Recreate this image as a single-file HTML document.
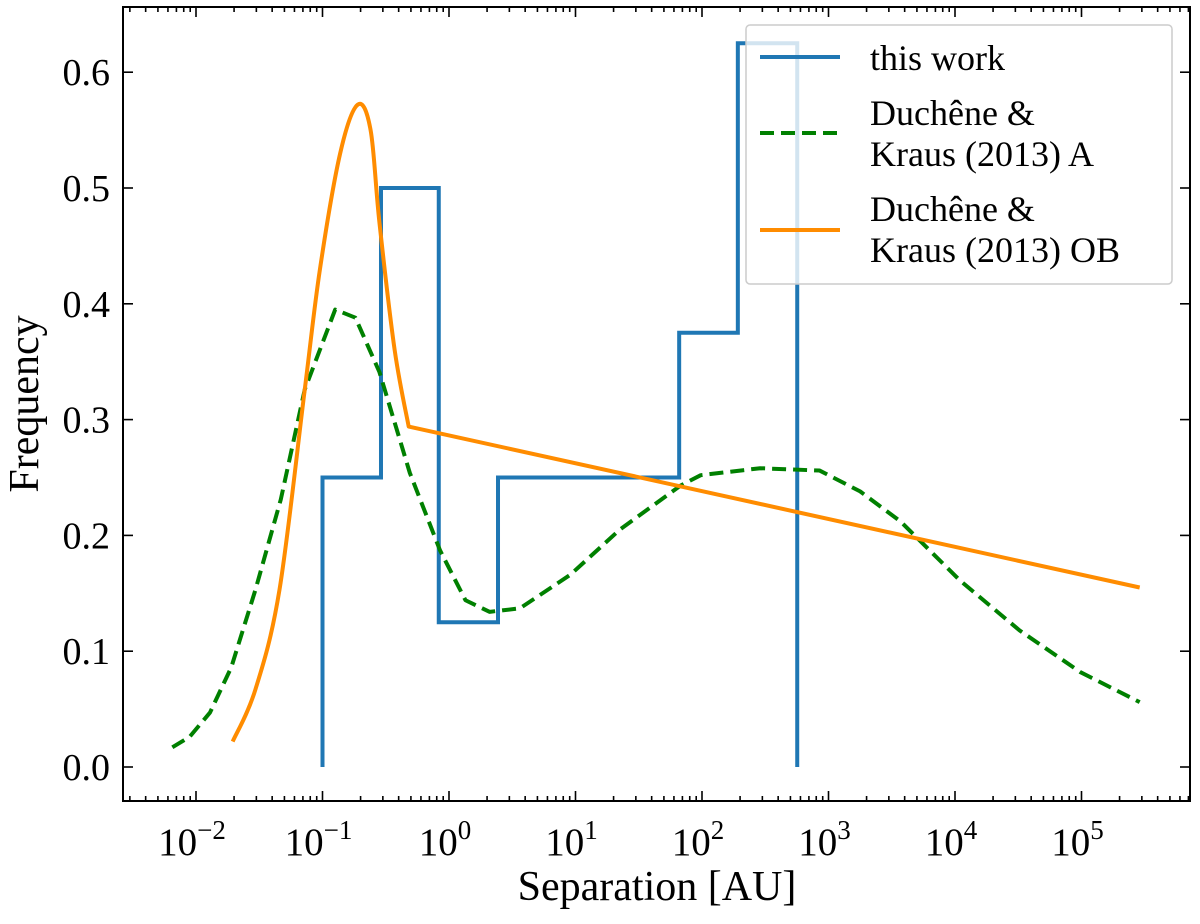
<!DOCTYPE html>
<html><head><meta charset="utf-8"><style>body{margin:0;background:#fff}svg text{font-family:"Liberation Serif",serif;fill:#000}</style></head>
<body>
<svg id="c" width="1200" height="919"></svg>
<script>
const blueEdges=[0.1,0.29,0.83,2.44,66,192,566];
const blueVals=[0.25,0.5,0.125,0.25,0.375,0.625];
const greenX=[0.0065,0.0089,0.0129,0.019,0.0295,0.0468,0.0724,0.126,0.182,0.282,0.49,0.85,1.35,2.09,3.63,9.1,22.4,67.6,97.7,288,851,1778,3715,10965,32359,97724,288403];
const greenY=[0.017,0.026,0.047,0.086,0.153,0.231,0.326,0.395,0.388,0.341,0.254,0.187,0.144,0.134,0.137,0.166,0.205,0.243,0.252,0.258,0.256,0.238,0.212,0.161,0.118,0.082,0.056];
const orangeX=[0.0195,0.0295,0.0457,0.0724,0.0955,0.138,0.19,0.24,0.282,0.372,0.48,288403];
const orangeY=[0.022,0.067,0.153,0.326,0.43,0.53,0.572,0.55,0.47,0.36,0.294,0.155];
const xTicks=[-2,-1,0,1,2,3,4,5];
const yTicks=[0,0.1,0.2,0.3,0.4,0.5,0.6];
const NS="http://www.w3.org/2000/svg",svg=document.getElementById('c');
const X=v=>449+126.5*Math.log10(v), Y=v=>767-v*1158;
function el(t,a,p){const e=document.createElementNS(NS,t);for(const k in a)e.setAttribute(k,a[k]);(p||svg).appendChild(e);return e;}
function smooth(pts,last){let d='M'+pts[0][0]+','+pts[0][1];
for(let i=0;i<pts.length-1;i++){
if(i>=last){d+=' L'+pts[i+1][0]+','+pts[i+1][1];continue;}
const p0=pts[Math.max(i-1,0)],p1=pts[i],p2=pts[i+1],p3=pts[Math.min(i+2,last)];
const c1=[p1[0]+(p2[0]-p0[0])/6,p1[1]+(p2[1]-p0[1])/6],c2=[p2[0]-(p3[0]-p1[0])/6,p2[1]-(p3[1]-p1[1])/6];
d+=' C'+c1+' '+c2+' '+p2;}return d;}
const L=123,R=1190,T=7,B=801;
for(let d=-3;d<=5;d++)for(let m=1;m<10;m++){const x=X(m*Math.pow(10,d));if(x<L||x>R)continue;const len=m==1?10:5;
const t1=el('line',{x1:x,x2:x,y1:B,y2:B-len,stroke:'#000','stroke-width':1.6});


const t2=el('line',{x1:x,x2:x,y1:T,y2:T+len,stroke:'#000','stroke-width':1.6});

}
xTicks.forEach(d=>{const x=X(Math.pow(10,d));const t=el('text',{x:x-4,y:855,'font-size':39,'text-anchor':'middle'});


t.innerHTML='10<tspan dy="-16" font-size="27">'+d.toString().replace('-','\u2212')+'</tspan>';});
yTicks.forEach(v=>{const y=Y(v);
el('line',{x1:L,x2:L+10,y1:y,y2:y,stroke:'#000','stroke-width':1.6});
el('line',{x1:R,x2:R-10,y1:y,y2:y,stroke:'#000','stroke-width':1.6});
const t=el('text',{x:110,y:y+13,'font-size':38,'text-anchor':'end'});


t.textContent=v.toFixed(1);});
let d='M'+X(blueEdges[0])+','+Y(0);
blueVals.forEach((v,i)=>{d+=' L'+X(blueEdges[i])+','+Y(v)+' L'+X(blueEdges[i+1])+','+Y(v);});
d+=' L'+X(blueEdges[blueEdges.length-1])+','+Y(0);
const bl=el('path',{d:d,fill:'none',stroke:'#1f77b4','stroke-width':4});


const gl=el('polyline',{points:greenX.map((x,i)=>X(x)+','+Y(greenY[i])).join(' '),fill:'none',stroke:'#008000','stroke-width':4,'stroke-dasharray':'14,7','stroke-linejoin':'round'});


const ol=el('path',{d:smooth(orangeX.map((x,i)=>[X(x),Y(orangeY[i])]),orangeX.length-2),fill:'none',stroke:'#ff8c00','stroke-width':4,'stroke-linejoin':'round'});


const fr=el('rect',{x:L,y:T,width:R-L,height:B-T,fill:'none',stroke:'#000','stroke-width':2});


const lg=el('g',{});


el('rect',{x:746,y:25,width:426,height:259,rx:4,fill:'rgba(255,255,255,0.8)',stroke:'#ccc','stroke-width':1.5},lg);
el('line',{x1:760,x2:840,y1:57,y2:57,stroke:'#1f77b4','stroke-width':4},lg);
el('line',{x1:760,x2:840,y1:133,y2:133,stroke:'#008000','stroke-width':4,'stroke-dasharray':'14,7'},lg);
el('line',{x1:760,x2:840,y1:230,y2:230,stroke:'#ff8c00','stroke-width':4},lg);
[['this work',70],['Duchêne &',125],['Kraus (2013) A',166],['Duchêne &',221],['Kraus (2013) OB',262]].forEach(([s,y])=>{const t=el('text',{x:870,y:y,'font-size':36},lg);


t.textContent=s;});
const xl=el('text',{x:657,y:900,'font-size':42,'text-anchor':'middle'});


xl.textContent='Separation [AU]';
const yl=el('text',{x:0,y:0,'font-size':42,'text-anchor':'middle',transform:'translate(38,404) rotate(-90)'});


yl.textContent='Frequency';
</script>
</body></html>
